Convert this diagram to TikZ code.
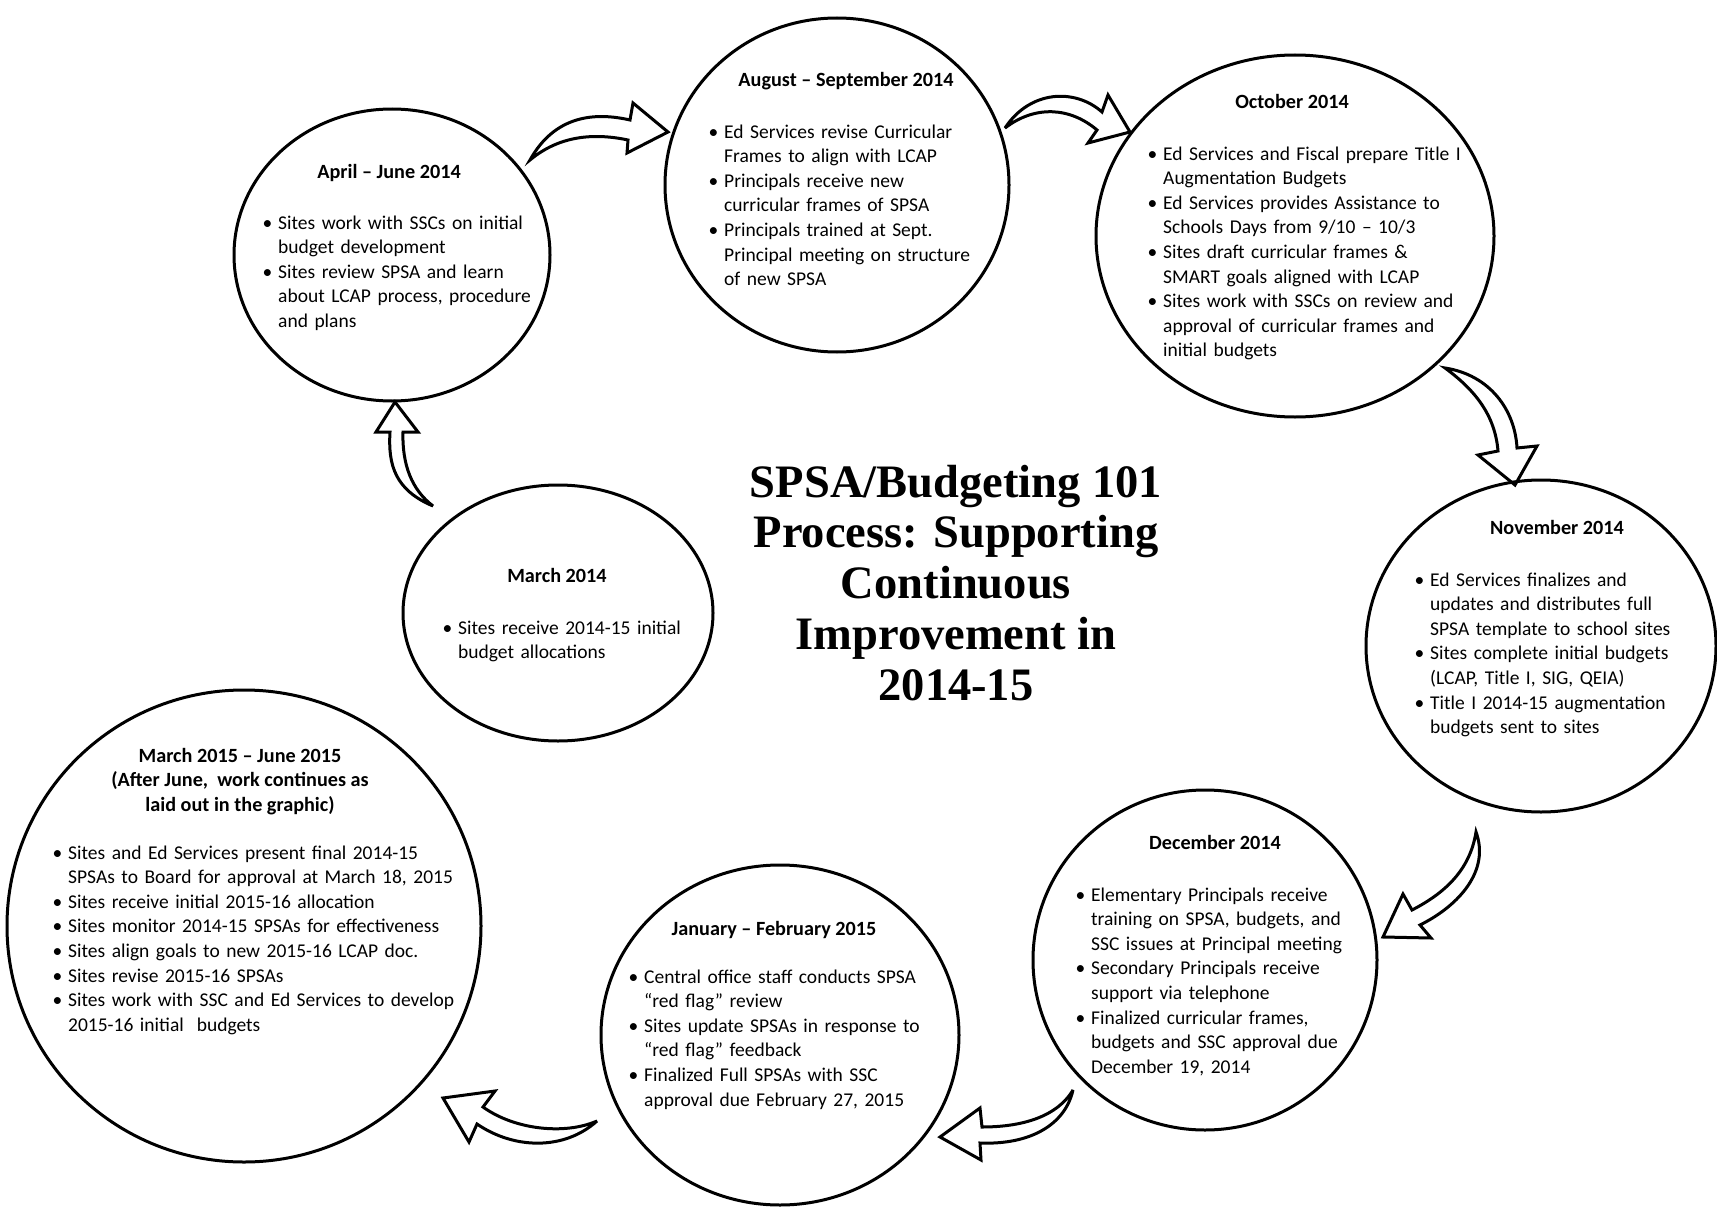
\documentclass[tikz,border=0pt]{standalone}
\usepackage{fontspec}
\setmainfont{Carlito}
\newfontfamily\titlefont{Liberation Serif}
\usetikzlibrary{shapes.geometric}
\newcommand\bi{\par\noindent\hangindent=15.5pt\hangafter=1\strut\makebox[15.5pt][l]{\textbullet}}
\newcommand\nl{\newline}
\tikzset{
  stage/.style={draw, ellipse, line width=3pt, inner sep=0pt},
  body/.style={anchor=north west, inner sep=0pt, text width=440pt, align=left,
    font=\fontsize{19.5}{24.6}\selectfont},
  ttl/.style={anchor=base, inner sep=0pt, font=\bfseries\fontsize{20.2}{24.6}\selectfont},
  blockarrow/.style={draw, line width=3pt, line join=miter, miter limit=6},
  maintitle/.style={anchor=north, inner sep=0pt, align=center,
    font=\titlefont\bfseries\fontsize{46.5}{50.8}\selectfont}
}
\begin{document}
\begin{tikzpicture}[x=1pt, y=-1pt]
\useasboundingbox (0,0) rectangle (1717,1207);
\fill[white] (0,0) rectangle (1717,1207);

% stages
\node[stage, minimum width=316pt, minimum height=292pt] (c1) at (392,255) {};
\node[stage, minimum width=344pt, minimum height=334pt] (c2) at (837,185) {};
\node[stage, minimum width=398pt, minimum height=362pt] (c3) at (1295,236) {};
\node[stage, minimum width=350pt, minimum height=332pt] (c4) at (1541,646) {};
\node[stage, minimum width=344pt, minimum height=340pt] (c5) at (1205,960) {};
\node[stage, minimum width=358pt, minimum height=340pt] (c6) at (780,1035) {};
\node[stage, minimum width=474pt, minimum height=472pt] (c7) at (244,926) {};
\node[stage, minimum width=310pt, minimum height=256pt] (c8) at (558,613) {};

% arrows
\draw[blockarrow] (530,160) .. controls (555,115) and (595,112) .. (630,120) -- (633,103) -- (668,132) -- (627,153) -- (628,140) .. controls (595,133) and (560,135) .. cycle;
\draw[blockarrow] (1005,128) .. controls (1030,90) and (1075,88) .. (1102,112) -- (1108,95) -- (1130,132) -- (1088,143) -- (1097,130) .. controls (1070,107) and (1035,105) .. cycle;
\draw[blockarrow] (1445,368) .. controls (1490,375) and (1515,410) .. (1517,448) -- (1537,446) -- (1515,485) -- (1478,455) -- (1498,451) .. controls (1495,415) and (1475,390) .. cycle;
\draw[blockarrow] (1476,832) .. controls (1490,870) and (1460,905) .. (1420,925) -- (1431,938) -- (1383,937) -- (1403,894) -- (1412,910) .. controls (1445,893) and (1470,870) .. cycle;
\draw[blockarrow] (1073,1090) .. controls (1055,1120) and (1015,1127) .. (982,1127) -- (980,1108) -- (940,1137) -- (981,1160) -- (980,1143) .. controls (1030,1145) and (1065,1125) .. cycle;
\draw[blockarrow] (597,1121) .. controls (565,1150) and (515,1150) .. (477,1124) -- (469,1142) -- (443,1098) -- (495,1091) -- (483,1107) .. controls (515,1130) and (565,1135) .. cycle;
\draw[blockarrow] (433,506) .. controls (395,490) and (388,465) .. (390,432) -- (376,432) -- (395,402) -- (418,432) -- (403,432) .. controls (402,465) and (412,490) .. cycle;

% main title
\node[maintitle] (title) at (956,461.4) {\strut SPSA/Budgeting 101\\Process: Supporting\\Continuous\\Improvement in\\2014-15};

% headings
\node[ttl] (h1) at (389,178) {April – June 2014};
\node[ttl] (h2) at (846,87) {August – September 2014};
\node[ttl] (h3) at (1292,109) {October 2014};
\node[ttl] (h4) at (1557,534) {November 2014};
\node[ttl] (h5) at (1215,849) {December 2014};
\node[ttl] (h6) at (774,935) {January – February 2015};
\node[ttl, anchor=north, align=center] (h7) at (240,744.8) {\strut March 2015 – June 2015\\(After June,\ \ work continues as\\laid out in the graphic)};
\node[ttl] (h8) at (557,582) {March 2014};

% bodies
\node[body] (b1) at (262.5,204.3) {\bi Sites work with SSCs on initial\nl budget development
\bi Sites review SPSA and learn\nl about LCAP process, procedure\nl and plans\par};
\node[body] (b2) at (708.5,113.3) {\bi Ed Services revise Curricular\nl Frames to align with LCAP
\bi Principals receive new\nl curricular frames of SPSA
\bi Principals trained at Sept.\nl Principal meeting on structure\nl of new SPSA\par};
\node[body] (b3) at (1147.5,135.3) {\bi Ed Services and Fiscal prepare Title I\nl Augmentation Budgets
\bi Ed Services provides Assistance to\nl Schools Days from 9/10 – 10/3
\bi Sites draft curricular frames \&\nl SMART goals aligned with LCAP
\bi Sites work with SSCs on review and\nl approval of curricular frames and\nl initial budgets\par};
\node[body] (b4) at (1414.5,561.3) {\bi Ed Services finalizes and\nl updates and distributes full\nl SPSA template to school sites
\bi Sites complete initial budgets\nl (LCAP, Title I, SIG, QEIA)
\bi Title I 2014-15 augmentation\nl budgets sent to sites\par};
\node[body] (b5) at (1075.5,876.3) {\bi Elementary Principals receive\nl training on SPSA, budgets, and\nl SSC issues at Principal meeting
\bi Secondary Principals receive\nl support via telephone
\bi Finalized curricular frames,\nl budgets and SSC approval due\nl December 19, 2014\par};
\node[body] (b6) at (628.5,958.3) {\bi Central office staff conducts SPSA\nl “red flag” review
\bi Sites update SPSAs in response to\nl “red flag” feedback
\bi Finalized Full SPSAs with SSC\nl approval due February 27, 2015\par};
\node[body] (b7) at (52.5,834.3) {\bi Sites and Ed Services present final 2014-15\nl SPSAs to Board for approval at March 18, 2015
\bi Sites receive initial 2015-16 allocation
\bi Sites monitor 2014-15 SPSAs for effectiveness
\bi Sites align goals to new 2015-16 LCAP doc.
\bi Sites revise 2015-16 SPSAs
\bi Sites work with SSC and Ed Services to develop\nl 2015-16 initial\ \ budgets\par};
\node[body] (b8) at (442.5,609.3) {\bi Sites receive 2014-15 initial\nl budget allocations\par};
\end{tikzpicture}
\end{document}
